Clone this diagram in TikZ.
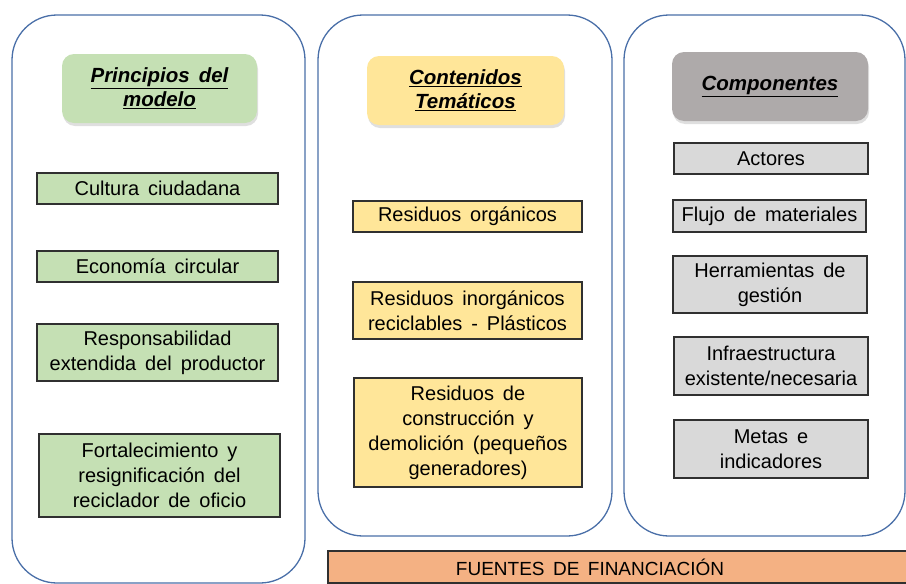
\documentclass[tikz,border=0pt]{standalone}
\usepackage{fontspec}
\setmainfont{Liberation Sans}[WordSpace=1.6]
\usepackage{xcolor}
\usetikzlibrary{shadows}
\definecolor{azul}{HTML}{4A6FA8}
\definecolor{verde}{HTML}{C5E0B4}
\definecolor{amarillo}{HTML}{FFE699}
\definecolor{gris}{HTML}{AEAAAA}
\definecolor{grisclaro}{HTML}{D9D9D9}
\definecolor{naranja}{HTML}{F4B183}
\definecolor{borde}{HTML}{303030}

\begin{document}
\begin{tikzpicture}[x=1pt, y=-1pt, inner sep=0pt,
	panel/.style = {draw=azul, line width=1.3pt, rounded corners=45pt},
	titulo/.style = {rounded corners=12pt, align=center, minimum height=69pt, font=\fontsize{20.5}{24}\selectfont\bfseries\itshape, drop shadow={shadow xshift=1pt, shadow yshift=-3pt, opacity=0.25}},
	caja/.style = {draw=borde, line width=1.3pt, align=center, font=\fontsize{20}{25}\selectfont}]
	\useasboundingbox (0,0) rectangle (906,584);
	\node[panel, minimum width=293pt, minimum height=568pt] (p1) at (158.5,299) {};
	\node[panel, minimum width=294pt, minimum height=521pt] (p2) at (465,275.5) {};
	\node[panel, minimum width=281pt, minimum height=521pt] (p3) at (764.5,275.5) {};
	\node[titulo, fill=verde, minimum width=195pt] (t1) at (159.5,88.5) {\underline{Principios del}\\\underline{modelo}};
	\node[titulo, fill=amarillo, minimum width=197pt] (t2) at (465.5,90.5) {\underline{Contenidos}\\\underline{Temáticos}};
	\node[titulo, fill=gris, minimum width=196pt] (t3) at (770,86.5) {\underline{Componentes}};
	\node[caja, fill=verde, minimum width=241pt, minimum height=31pt] (a1) at (157.5,188.5) {Cultura ciudadana};
	\node[caja, fill=verde, minimum width=241pt, minimum height=31pt] (a2) at (157.5,266.5) {Economía circular};
	\node[caja, fill=verde, minimum width=241pt, minimum height=57pt] (a3) at (157.5,352.5) {Responsabilidad\\extendida del productor};
	\node[caja, fill=verde, minimum width=241pt, minimum height=83pt] (a4) at (159.5,475.5) {Fortalecimiento y\\resignificación del\\reciclador de oficio};
	\node[caja, fill=amarillo, minimum width=229pt, minimum height=31pt] (b1) at (467.5,216.5) {Residuos orgánicos};
	\node[caja, fill=amarillo, minimum width=229pt, minimum height=57pt] (b2) at (467.5,310.5) {Residuos inorgánicos\\reciclables - Plásticos};
	\node[caja, fill=amarillo, minimum width=228pt, minimum height=109pt] (b3) at (468,432.5) {Residuos de\\construcción y\\demolición (pequeños\\generadores)};
	\node[caja, fill=grisclaro, minimum width=194pt, minimum height=31pt] (c1) at (771,158.5) {Actores};
	\node[caja, fill=grisclaro, minimum width=193pt, minimum height=32pt] (c2) at (769.5,216) {Flujo de materiales};
	\node[caja, fill=grisclaro, minimum width=194pt, minimum height=57pt] (c3) at (770,284.5) {Herramientas de\\gestión};
	\node[caja, fill=grisclaro, minimum width=194pt, minimum height=58pt] (c4) at (771,366) {Infraestructura\\existente/necesaria};
	\node[caja, fill=grisclaro, minimum width=194pt, minimum height=58pt] (c5) at (771,449) {Metas e\\indicadores};
	\node[caja, fill=naranja, minimum width=582pt, minimum height=32pt] (f) at (619,567) {};
	\node[font=\fontsize{19}{23}\selectfont] (ftexto) at (590,567) {FUENTES DE FINANCIACIÓN};
\end{tikzpicture}
\end{document}
